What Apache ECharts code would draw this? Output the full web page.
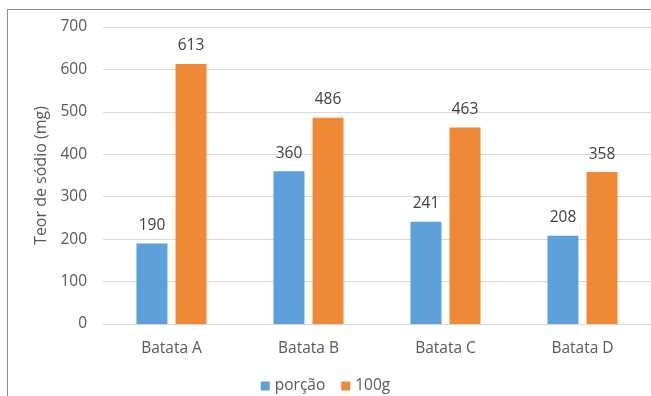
<!DOCTYPE html>
<html>
<head>
<meta charset="utf-8">
<script src="https://cdn.jsdelivr.net/npm/echarts@6/dist/echarts.min.js"></script>
<style>
  html, body { margin: 0; padding: 0; background: #fff; }
  #frame { position: absolute; left: 7px; top: 9px; width: 700px; height: 400px; border-left: 1px solid #8c8c8c; border-top: 1px solid #8c8c8c; }
  #chart { width: 651px; height: 396px; position: absolute; left: 0; top: 0; }
</style>
</head>
<body>
<div id="frame"></div>
<div id="chart"></div>
<script>
// Sodium content per potato brand
const categories = ['Batata A', 'Batata B', 'Batata C', 'Batata D'];
const porcao = [190, 360, 241, 208];
const cem = [613, 486, 463, 358];
const yTicks = [0, 100, 200, 300, 400, 500, 600, 700];

const font = '"Open Sans", "Liberation Sans", sans-serif';
const grey = '#595959';
const chart = echarts.init(document.getElementById('chart'));
chart.setOption({
  animation: false,
  textStyle: { fontFamily: font },
  grid: { left: 103, right: 0, top: 27, bottom: 72, containLabel: false },
  legend: {
    bottom: -3,
    left: 'center',
    itemWidth: 9,
    itemHeight: 9,
    itemGap: 16,
    icon: 'rect',
    textStyle: { fontSize: 15.5, color: grey, fontFamily: font },
    data: ['porção', '100g']
  },
  xAxis: {
    type: 'category',
    data: categories,
    axisLine: { lineStyle: { color: '#d9d9d9' } },
    axisTick: { show: false },
    axisLabel: { fontSize: 15.5, color: grey, margin: 17, fontFamily: font }
  },
  yAxis: {
    type: 'value',
    min: yTicks[0],
    max: yTicks[yTicks.length - 1],
    interval: 100,
    name: 'Teor de sódio (mg)',
    nameLocation: 'middle',
    nameGap: 52,
    nameTextStyle: { fontSize: 16, color: grey, fontFamily: font },
    axisLine: { show: false },
    axisTick: { show: false },
    axisLabel: { fontSize: 15.5, color: grey, margin: 16, fontFamily: font },
    splitLine: { lineStyle: { color: '#d9d9d9', width: 1 } }
  },
  series: [
    {
      name: 'porção',
      type: 'bar',
      data: porcao,
      barWidth: 31,
      barGap: '26%',
      itemStyle: { color: '#5C9FDB' },
      label: { show: true, position: 'top', distance: 10, fontSize: 15.5, color: '#404040', fontFamily: font }
    },
    {
      name: '100g',
      type: 'bar',
      data: cem,
      barWidth: 31,
      itemStyle: { color: '#F08936' },
      label: { show: true, position: 'top', distance: 10, fontSize: 15.5, color: '#404040', fontFamily: font }
    }
  ]
});
</script>
</body>
</html>
